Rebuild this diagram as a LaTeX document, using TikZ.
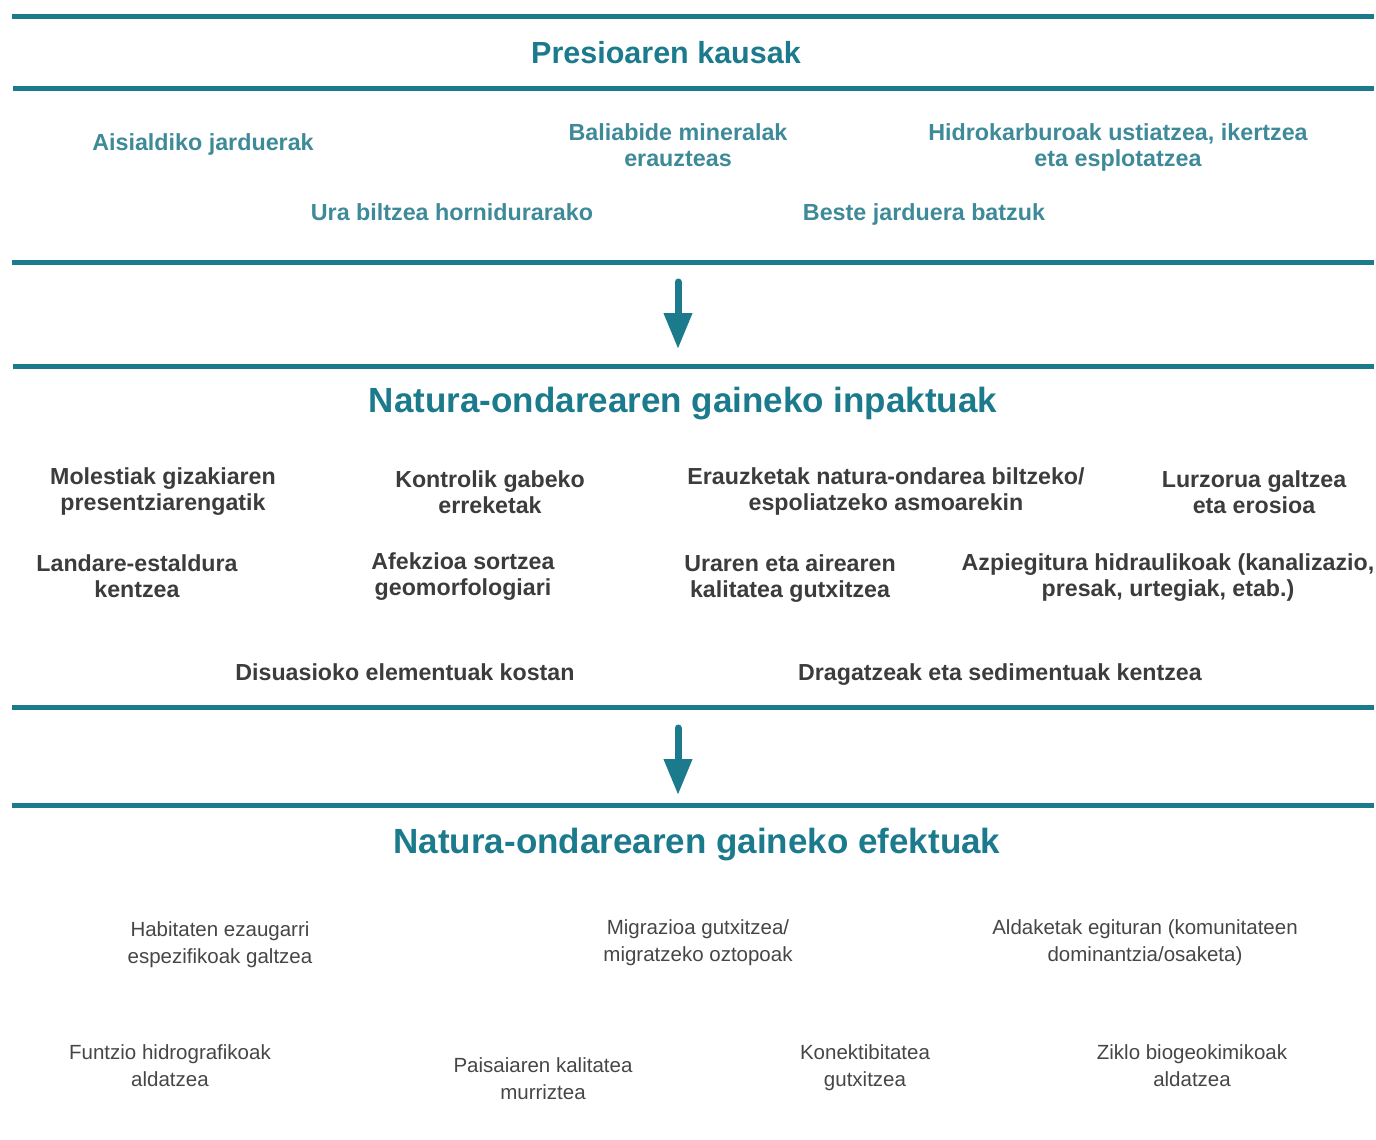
\documentclass[tikz,border=0pt]{standalone}
\usepackage{fontspec}
\setmainfont{Liberation Sans}
\usetikzlibrary{arrows.meta}
\definecolor{teal1}{RGB}{27,122,140}
\definecolor{teal2}{RGB}{62,138,152}
\definecolor{grayb}{RGB}{60,60,60}
\definecolor{grayr}{RGB}{70,70,70}
\tikzset{
  rule/.style={line width=5pt, draw=teal1},
  title/.style={text=teal1, font=\fontsize{35}{40}\selectfont\bfseries, inner sep=0pt},
  cause/.style={text=teal2, font=\fontsize{23.3}{26}\selectfont\bfseries, align=center, inner sep=0pt},
  impact/.style={text=grayb, font=\fontsize{23.2}{26}\selectfont\bfseries, align=center, inner sep=0pt},
  effect/.style={text=grayr, font=\fontsize{20.5}{27}\selectfont, align=center, inner sep=0pt},
  flow/.style={draw=teal1, line width=7pt, line cap=round, -{Triangle[width=27pt,length=36pt]}}
}
\begin{document}
\begin{tikzpicture}[x=1pt,y=-1pt]
\useasboundingbox (0,0) rectangle (1376,1140);
% separator rules
\draw[rule] (12,16.5) -- (1374,16.5);
\draw[rule] (13,88.5) -- (1374,88.5);
\draw[rule] (12,262.5) -- (1374,262.5);
\draw[rule] (13,366) -- (1374,366);
\draw[rule] (12,707) -- (1374,707);
\draw[rule] (12,805) -- (1374,805);
% titles
\node[title, font=\fontsize{30.5}{34}\selectfont\bfseries] (t1) at (666,57) {Presioaren kausak\strut};
\node[title] (t2) at (683,404) {Natura-ondarearen gaineko inpaktuak\strut};
\node[title] (t3) at (697,845) {Natura-ondarearen gaineko efektuak\strut};
% causes
\node[cause] (aisi) at (203,145) {Aisialdiko jarduerak\strut};
\node[cause] (bali) at (678,148) {Baliabide mineralak\strut\\erauzteas\strut};
\node[cause] (hidro) at (1118,148) {Hidrokarburoak ustiatzea, ikertzea\strut\\eta esplotatzea\strut};
\node[cause] (ura) at (452,215) {Ura biltzea hornidurarako\strut};
\node[cause] (beste) at (924,215) {Beste jarduera batzuk\strut};
% impacts
\node[impact] (moles) at (163,492) {Molestiak gizakiaren\strut\\presentziarengatik\strut};
\node[impact] (kontrol) at (490,495) {Kontrolik gabeko\strut\\erreketak\strut};
\node[impact] (erauz) at (886,492) {Erauzketak natura-ondarea biltzeko/\strut\\espoliatzeko asmoarekin\strut};
\node[impact] (lurz) at (1254,495) {Lurzorua galtzea\strut\\eta erosioa\strut};
\node[impact] (landare) at (137,579) {Landare-estaldura\strut\\kentzea\strut};
\node[impact] (afek) at (463,577) {Afekzioa sortzea\strut\\geomorfologiari\strut};
\node[impact] (uraren) at (790,579) {Uraren eta airearen\strut\\kalitatea gutxitzea\strut};
\node[impact] (azpi) at (1168,578) {Azpiegitura hidraulikoak (kanalizazio,\strut\\presak, urtegiak, etab.)\strut};
\node[impact] (disu) at (405,675) {Disuasioko elementuak kostan\strut};
\node[impact] (draga) at (1000,675) {Dragatzeak eta sedimentuak kentzea\strut};
% effects
\node[effect] (habi) at (220,945) {Habitaten ezaugarri\strut\\espezifikoak galtzea\strut};
\node[effect] (migra) at (698,943) {Migrazioa gutxitzea/\strut\\migratzeko oztopoak\strut};
\node[effect] (aldak) at (1145,943) {Aldaketak egituran (komunitateen\strut\\dominantzia/osaketa)\strut};
\node[effect] (funtz) at (170,1068) {Funtzio hidrografikoak\strut\\aldatzea\strut};
\node[effect] (paisa) at (543,1081) {Paisaiaren kalitatea\strut\\murriztea\strut};
\node[effect] (konek) at (865,1068) {Konektibitatea\strut\\gutxitzea\strut};
\node[effect] (ziklo) at (1192,1068) {Ziklo biogeokimikoak\strut\\aldatzea\strut};
% arrows
\coordinate (a1s) at (678,282);
\coordinate (a1e) at (678,349);
\coordinate (a2s) at (678,728);
\coordinate (a2e) at (678,795);
\draw[flow] (a1s) -- (a1e);
\draw[flow] (a2s) -- (a2e);
\end{tikzpicture}
\end{document}
